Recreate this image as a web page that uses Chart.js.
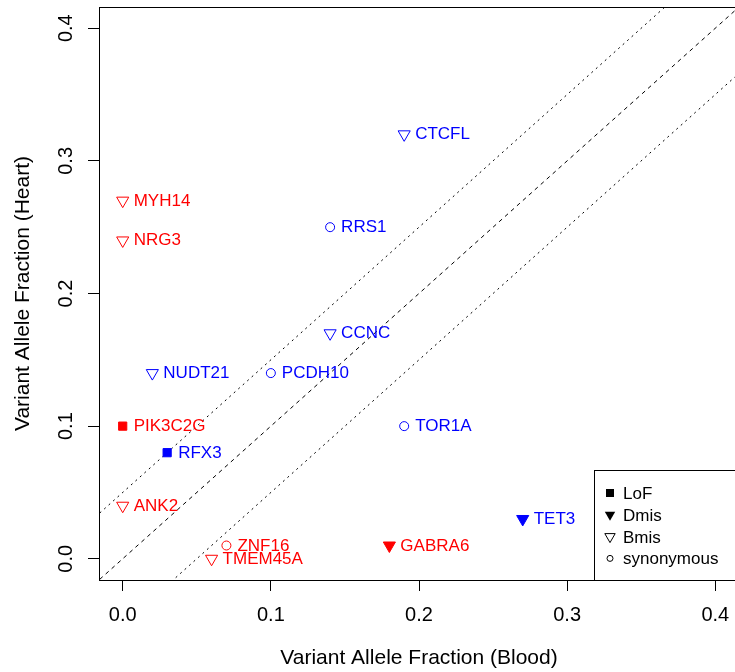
<!DOCTYPE html>
<html>
<head>
<meta charset="utf-8">
<script src="https://cdn.jsdelivr.net/npm/chart.js@4.4.1/dist/chart.umd.min.js"></script>
<style>
  html, body { margin: 0; padding: 0; background: #fff; }
  #wrap { width: 735px; height: 672px; overflow: hidden; }
</style>
</head>
<body>
<div id="wrap"><canvas id="vafChart" width="760" height="672"></canvas></div>
<script>
// variants
const genes = ['CTCFL', 'MYH14', 'NRG3', 'RRS1', 'CCNC', 'NUDT21', 'PCDH10', 'PIK3C2G', 'TOR1A', 'RFX3', 'ANK2', 'TET3', 'ZNF16', 'TMEM45A', 'GABRA6'];
const blood = [0.19, 0.00, 0.00, 0.14, 0.14, 0.02, 0.10, 0.00, 0.19, 0.03, 0.00, 0.27, 0.07, 0.06, 0.18];
const heart = [0.32, 0.27, 0.24, 0.25, 0.17, 0.14, 0.14, 0.10, 0.10, 0.08, 0.04, 0.03, 0.01, 0.00, 0.01];
const types = ['Bmis', 'Bmis', 'Bmis', 'synonymous', 'Bmis', 'Bmis', 'synonymous', 'LoF', 'synonymous', 'LoF', 'Bmis', 'Dmis', 'synonymous', 'Bmis', 'Dmis'];
const groups = ['blue', 'red', 'red', 'blue', 'blue', 'blue', 'blue', 'red', 'blue', 'blue', 'red', 'blue', 'red', 'red', 'red'];

// reference lines (y = x, y = x +/- 0.05)
const diagX = [-0.1, 0.5];
const diagMid = [-0.1, 0.5];
const diagUp = [-0.05, 0.55];
const diagLow = [-0.15, 0.45];

const tickValues = [0, 0.1, 0.2, 0.3, 0.4];
const tickLabels = ['0.0', '0.1', '0.2', '0.3', '0.4'];
const legendLabels = ['LoF', 'Dmis', 'Bmis', 'synonymous'];

const FONT = '"Liberation Sans", Arial, Helvetica, sans-serif';
const colorOf = g => g === 'red' ? '#ff0000' : '#0000ff';

const pts = genes.map((g, i) => ({ x: blood[i], y: heart[i] }));

function styleOf(t) {
  if (t === 'LoF') return 'rect';
  if (t === 'synonymous') return 'circle';
  return 'triangle';
}
function radiusOf(t) {
  if (t === 'LoF') return 5.8;
  if (t === 'synonymous') return 4.5;
  return 7;
}

function lineSet(ys, dash) {
  return {
    type: 'line',
    data: diagX.map((x, i) => ({ x: x, y: ys[i] })),
    borderColor: '#000',
    borderWidth: 1,
    borderDash: dash,
    pointRadius: 0,
    fill: false,
    order: 2
  };
}

// shapes for the legend
function drawSym(ctx, t, x, y) {
  ctx.save();
  ctx.fillStyle = '#000';
  ctx.strokeStyle = '#000';
  ctx.lineWidth = 1;
  ctx.beginPath();
  if (t === 'LoF') {
    ctx.fillRect(x - 4, y - 4, 8, 8);
  } else if (t === 'synonymous') {
    ctx.arc(x, y, 3, 0, Math.PI * 2);
    ctx.stroke();
  } else {
    const r = 6;
    ctx.moveTo(x, y + r);
    ctx.lineTo(x + r * 0.866, y - r / 2);
    ctx.lineTo(x - r * 0.866, y - r / 2);
    ctx.closePath();
    if (t === 'Dmis') ctx.fill(); else ctx.stroke();
  }
  ctx.restore();
}

const rStyle = {
  id: 'rStyle',
  afterDraw(chart) {
    const ctx = chart.ctx;
    const a = chart.chartArea;
    const xs = chart.scales.x, ys = chart.scales.y;
    ctx.save();
    // box
    ctx.strokeStyle = '#000';
    ctx.lineWidth = 1;
    ctx.strokeRect(a.left + 0.5, a.top + 0.5, a.right - a.left, a.bottom - a.top);

    // tick labels
    ctx.fillStyle = '#000';
    ctx.font = '20px ' + FONT;
    ctx.textAlign = 'center';
    ctx.textBaseline = 'alphabetic';
    tickValues.forEach((v, i) => {
      ctx.fillText(tickLabels[i], xs.getPixelForValue(v), 621);
    });
    tickValues.forEach((v, i) => {
      ctx.save();
      ctx.translate(72, ys.getPixelForValue(v));
      ctx.rotate(-Math.PI / 2);
      ctx.fillText(tickLabels[i], 0, 0);
      ctx.restore();
    });

    // axis titles
    ctx.font = '21px ' + FONT;
    ctx.fillText('Variant Allele Fraction (Blood)', (a.left + a.right) / 2, 664);
    ctx.save();
    ctx.translate(28.5, (a.top + a.bottom) / 2);
    ctx.rotate(-Math.PI / 2);
    ctx.fillText('Variant Allele Fraction (Heart)', 0, 0);
    ctx.restore();

    // point labels
    ctx.font = '17px ' + FONT;
    ctx.textAlign = 'left';
    const meta = chart.getDatasetMeta(0);
    meta.data.forEach((p, i) => {
      ctx.fillStyle = colorOf(groups[i]);
      ctx.fillText(genes[i], p.x + 11, p.y + 5);
    });

    // legend
    const lx = 594, ly = 470;
    ctx.fillStyle = '#fff';
    ctx.fillRect(lx, ly, a.right - lx, a.bottom - ly);
    ctx.strokeStyle = '#000';
    ctx.strokeRect(lx + 0.5, ly + 0.5, a.right - lx, a.bottom - ly);
    ctx.fillStyle = '#000';
    legendLabels.forEach((t, i) => {
      const y = 493 + i * 21.8;
      drawSym(ctx, t, 610, y);
      ctx.fillStyle = '#000';
      ctx.fillText(t, 623, y + 6);
    });
    ctx.restore();
  }
};

new Chart(document.getElementById('vafChart'), {
  type: 'scatter',
  data: {
    datasets: [
      {
        data: pts,
        pointStyle: ctx => styleOf(types[ctx.dataIndex]),
        rotation: ctx => (types[ctx.dataIndex] === 'Dmis' || types[ctx.dataIndex] === 'Bmis') ? 180 : 0,
        radius: ctx => radiusOf(types[ctx.dataIndex]),
        pointRadius: ctx => radiusOf(types[ctx.dataIndex]),
        borderColor: ctx => colorOf(groups[ctx.dataIndex]),
        backgroundColor: ctx => {
          const t = types[ctx.dataIndex];
          return (t === 'LoF' || t === 'Dmis') ? colorOf(groups[ctx.dataIndex]) : 'rgba(0,0,0,0)';
        },
        borderWidth: 1,
        order: 1
      },
      lineSet(diagMid, [4, 4]),
      lineSet(diagUp, [2, 4]),
      lineSet(diagLow, [2, 4])
    ]
  },
  options: {
    responsive: false,
    animation: false,
    events: [],
    layout: { autoPadding: false, padding: { top: 7, right: 21, left: 0, bottom: 0 } },
    plugins: { legend: { display: false }, tooltip: { enabled: false } },
    scales: {
      x: {
        type: 'linear',
        min: -0.016,
        max: 0.416,
        afterFit: s => { s.height = 92; },
        afterBuildTicks: s => { s.ticks = tickValues.map(v => ({ value: v })); },
        ticks: { display: false },
        grid: { drawOnChartArea: false, drawTicks: true, tickLength: 11, color: '#000', lineWidth: 1 },
        border: { display: true, color: '#000', width: 1 }
      },
      y: {
        type: 'linear',
        min: -0.016,
        max: 0.416,
        afterFit: s => { s.width = 99; },
        afterBuildTicks: s => { s.ticks = tickValues.map(v => ({ value: v })); },
        ticks: { display: false },
        grid: { drawOnChartArea: false, drawTicks: true, tickLength: 11, color: '#000', lineWidth: 1 },
        border: { display: true, color: '#000', width: 1 }
      }
    }
  },
  plugins: [rStyle]
});
</script>
</body>
</html>
